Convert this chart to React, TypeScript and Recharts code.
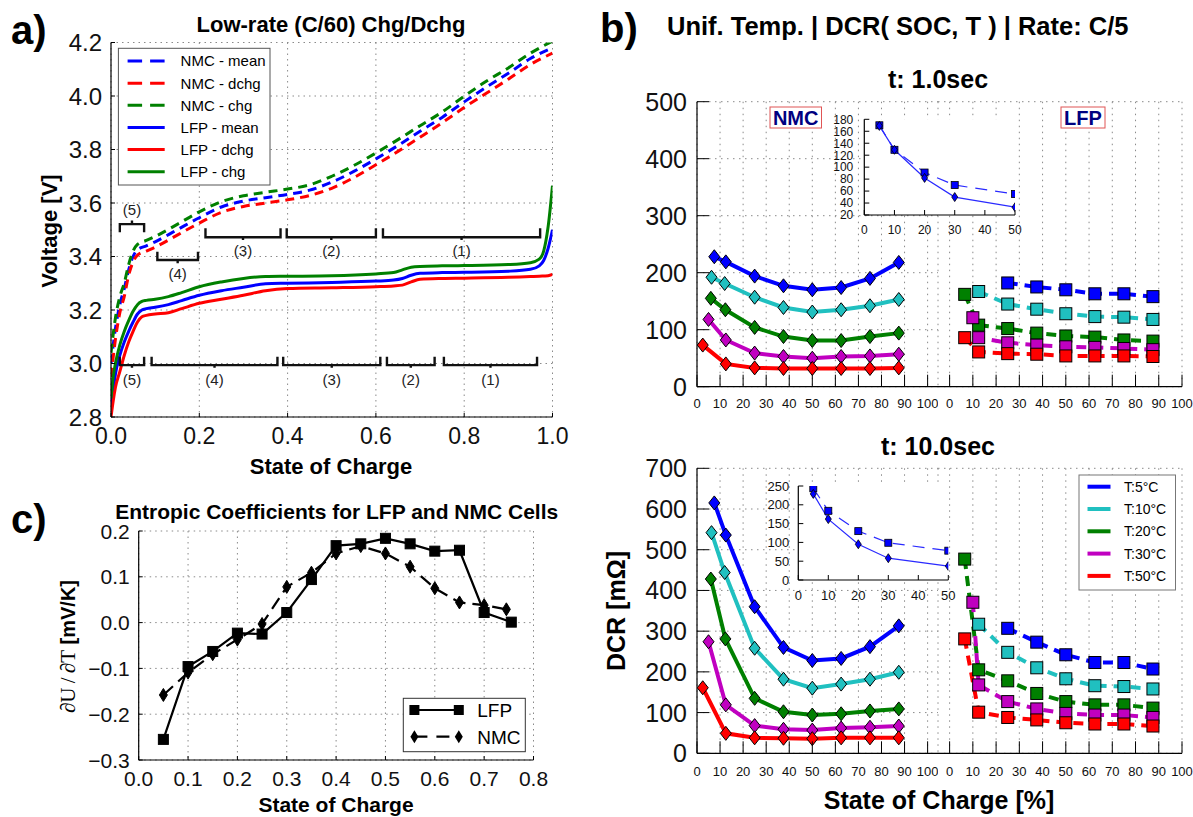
import React from 'react';
import { LineChart, Line, XAxis, YAxis, CartesianGrid, ReferenceDot } from 'recharts';

const FONT = '"Liberation Sans", Arial, Helvetica, sans-serif';
const SERIF = '"Liberation Serif", "DejaVu Serif", serif';
const BLUE = '#0000ff';
const RED = '#ff0000';
const GREEN = '#008000';
const CYAN = '#20c0c0';
const MAGENTA = '#c000c0';

// ================= Panel a : low-rate charge / discharge =================
const socTicksA = [0, 0.2, 0.4, 0.6, 0.8, 1.0];
const voltTicks = [2.8, 3.0, 3.2, 3.4, 3.6, 3.8, 4.0, 4.2];

const nmcSoc = [0, 0.01, 0.02, 0.03, 0.04, 0.05, 0.06, 0.08, 0.1, 0.15, 0.2, 0.25, 0.3, 0.35, 0.4, 0.45, 0.5, 0.55, 0.6, 0.65, 0.7, 0.75, 0.8, 0.85, 0.9, 0.95, 1.0];
const nmcMeanV = [3.0, 3.13, 3.22, 3.28, 3.35, 3.40, 3.425, 3.44, 3.455, 3.50, 3.545, 3.585, 3.607, 3.62, 3.632, 3.648, 3.678, 3.718, 3.765, 3.815, 3.868, 3.92, 3.978, 4.033, 4.085, 4.14, 4.18];
const nmcDchgV = [2.95, 3.09, 3.19, 3.25, 3.33, 3.38, 3.405, 3.42, 3.435, 3.48, 3.525, 3.565, 3.587, 3.60, 3.612, 3.628, 3.655, 3.695, 3.743, 3.793, 3.846, 3.90, 3.957, 4.01, 4.063, 4.118, 4.16];
const nmcChgV = [3.04, 3.17, 3.25, 3.30, 3.37, 3.42, 3.445, 3.46, 3.475, 3.52, 3.567, 3.605, 3.627, 3.64, 3.652, 3.668, 3.70, 3.74, 3.787, 3.837, 3.889, 3.94, 3.999, 4.055, 4.105, 4.16, 4.205];

const lfpSoc = [0, 0.005, 0.01, 0.02, 0.03, 0.04, 0.05, 0.06, 0.07, 0.08, 0.1, 0.13, 0.16, 0.2, 0.25, 0.3, 0.35, 0.4, 0.5, 0.6, 0.64, 0.66, 0.68, 0.7, 0.75, 0.8, 0.9, 0.95, 0.97, 0.98, 0.99, 1.0];
const lfpMeanV = [2.82, 2.9, 2.96, 3.03, 3.08, 3.12, 3.155, 3.185, 3.2, 3.205, 3.21, 3.22, 3.235, 3.255, 3.272, 3.285, 3.298, 3.3, 3.303, 3.308, 3.312, 3.318, 3.33, 3.337, 3.34, 3.341, 3.345, 3.352, 3.365, 3.385, 3.43, 3.5];
const lfpDchgV = [2.8, 2.86, 2.91, 2.97, 3.03, 3.08, 3.12, 3.155, 3.175, 3.18, 3.185, 3.19, 3.205, 3.225, 3.24, 3.255, 3.272, 3.28, 3.283, 3.287, 3.29, 3.293, 3.305, 3.315, 3.318, 3.319, 3.322, 3.325, 3.326, 3.327, 3.328, 3.333];
const lfpChgV = [2.87, 2.95, 3.0, 3.07, 3.12, 3.16, 3.195, 3.22, 3.232, 3.236, 3.24, 3.25, 3.265, 3.287, 3.305, 3.318, 3.325, 3.326, 3.328, 3.335, 3.34, 3.35, 3.36, 3.363, 3.365, 3.366, 3.37, 3.377, 3.39, 3.42, 3.51, 3.665];

const legendANames = ['NMC - mean', 'NMC - dchg', 'NMC - chg', 'LFP - mean', 'LFP - dchg', 'LFP - chg'];
const legendAColors = [BLUE, RED, GREEN, BLUE, RED, GREEN];
const legendADashed = [true, true, true, false, false, false];

const bracketNames = ['(5)', '(4)', '(3)', '(2)', '(1)'];
const nmcBracketStart = [0.02, 0.105, 0.214, 0.398, 0.616];
const nmcBracketEnd = [0.075, 0.197, 0.384, 0.6, 0.972];
const nmcBracketBar = [3.521, 3.387, 3.472, 3.472, 3.472];
const nmcBracketTip = [3.491, 3.418, 3.506, 3.506, 3.506];
const nmcBracketNotch = [3.535, 3.375, 3.462, 3.462, 3.462];
const nmcBracketLabelV = [3.575, 3.335, 3.42, 3.42, 3.42];
const lfpBracketStart = [0.02, 0.092, 0.39, 0.625, 0.754];
const lfpBracketEnd = [0.075, 0.377, 0.61, 0.733, 0.965];
const lfpBracketBar = [2.994, 2.994, 2.994, 2.994, 2.994];
const lfpBracketTip = [3.025, 3.025, 3.025, 3.025, 3.025];
const lfpBracketNotch = [2.984, 2.984, 2.984, 2.984, 2.984];
const lfpBracketLabelV = [2.94, 2.94, 2.94, 2.94, 2.94];

// ================= Panel b : DCR(SOC, T) =================
const socTicksB = [0, 10, 20, 30, 40, 50, 60, 70, 80, 90, 100];
const dcrTicks1s = [0, 100, 200, 300, 400, 500];
const dcrTicks10s = [0, 100, 200, 300, 400, 500, 600, 700];
const tempNames = ['T:5°C', 'T:10°C', 'T:20°C', 'T:30°C', 'T:50°C'];
const tempColors = [BLUE, CYAN, GREEN, MAGENTA, RED];

const nmcSocT5 = [7.5, 12.5, 25, 37.5, 50, 62.5, 75, 87.5];
const nmcSocT10 = [6.3, 12, 25, 37.5, 50, 62.5, 75, 87.5];
const nmcSocT20 = [6, 12.3, 25, 37.5, 50, 62.5, 75, 87.5];
const nmcSocT30 = [5, 12.5, 25, 37.5, 50, 62.5, 75, 87.5];
const nmcSocT50 = [2.5, 12.5, 25, 37.5, 50, 62.5, 75, 87.5];
const lfpSocT5 = [25, 37.5, 50, 62.5, 75, 87.5];
const lfpSocT10 = [12.5, 25, 37.5, 50, 62.5, 75, 87.5];
const lfpSocT20 = [6.5, 12.5, 25, 37.5, 50, 62.5, 75, 87.5];
const lfpSocT30 = [10, 12.5, 25, 37.5, 50, 62.5, 75, 87.5];
const lfpSocT50 = [6.5, 12.5, 25, 37.5, 50, 62.5, 75, 87.5];

// t = 1.0 s
const nmc1sT5 = [228, 219, 194, 177, 170, 174, 190, 218];
const nmc1sT10 = [192, 181, 157, 139, 131, 135, 142, 153];
const nmc1sT20 = [155, 135, 104, 88, 81, 81, 88, 94];
const nmc1sT30 = [118, 82, 59, 53, 50, 53, 54, 57];
const nmc1sT50 = [73, 40, 33, 32, 32, 32, 32, 33];
const lfp1sT5 = [182, 175, 170, 163, 163, 158];
const lfp1sT10 = [167, 145, 136, 128, 123, 122, 118];
const lfp1sT20 = [162, 108, 102, 94, 89, 87, 82, 80];
const lfp1sT30 = [121, 86, 77, 73, 70, 69, 67, 65];
const lfp1sT50 = [86, 61, 58, 57, 54, 54, 54, 53];

// t = 10.0 s
const nmc10sT5 = [615, 536, 360, 260, 228, 233, 262, 313];
const nmc10sT10 = [542, 444, 258, 182, 160, 170, 182, 199];
const nmc10sT20 = [428, 281, 135, 102, 94, 97, 104, 109];
const nmc10sT30 = [274, 119, 68, 59, 57, 62, 64, 67];
const nmc10sT50 = [161, 49, 38, 37, 36, 38, 38, 38];
const lfp10sT5 = [307, 273, 242, 223, 223, 207];
const lfp10sT10 = [317, 248, 210, 183, 166, 164, 158];
const lfp10sT20 = [477, 205, 178, 147, 127, 119, 119, 111];
const lfp10sT30 = [371, 168, 127, 109, 98, 94, 94, 88];
const lfp10sT50 = [281, 101, 88, 82, 75, 72, 72, 67];

// insets (DCR vs temperature)
const insetTemps = [5, 10, 20, 30, 50];
const insetTicksX = [0, 10, 20, 30, 40, 50];
const inset1sTicks = [20, 40, 60, 80, 100, 120, 140, 160, 180];
const inset10sTicks = [0, 50, 100, 150, 200, 250];
const inset1sSquares = [170, 129, 91, 70, 55];
const inset1sDiamonds = [169, 129, 82, 50, 33];
const inset10sSquares = [244, 184, 130, 99, 78];
const inset10sDiamonds = [229, 162, 95, 58, 37];

// ================= Panel c : entropic coefficients =================
const entSocTicks = [0, 0.1, 0.2, 0.3, 0.4, 0.5, 0.6, 0.7, 0.8];
const entTicks = [-0.3, -0.2, -0.1, 0, 0.1, 0.2];
const entSocLfp = [0.05, 0.1, 0.15, 0.2, 0.25, 0.3, 0.35, 0.4, 0.45, 0.5, 0.55, 0.6, 0.65, 0.7, 0.755];
const entLfp = [-0.255, -0.096, -0.063, -0.023, -0.025, 0.022, 0.094, 0.168, 0.172, 0.184, 0.172, 0.156, 0.158, 0.022, 0.001];
const entSocNmc = [0.05, 0.1, 0.15, 0.2, 0.25, 0.3, 0.35, 0.4, 0.45, 0.5, 0.55, 0.6, 0.65, 0.7, 0.745];
const entNmc = [-0.158, -0.109, -0.069, -0.037, -0.003, 0.078, 0.109, 0.151, 0.167, 0.151, 0.122, 0.075, 0.044, 0.038, 0.029];

// ================= helpers =================
type Pt = { x: number; y: number };
const zip = (xs: number[], ys: number[]): Pt[] => xs.map((x, i) => ({ x, y: ys[i] }));
const f1 = (v: number) => v.toFixed(1);
const fm1 = (v: number) => (v < 0 ? '\u2212' + Math.abs(v).toFixed(1) : v.toFixed(1));
const AXL = { stroke: '#000', strokeWidth: 1.2 };

const tickBottom = (len: number, fs: number, gap: number, fmt?: (v: number) => string) => (p: any) => (
  <g>
    {len > 0 ? <line x1={p.x} y1={p.y} x2={p.x} y2={p.y - len} stroke="#000" strokeWidth={1} /> : null}
    <text x={p.x} y={p.y + gap} textAnchor="middle" fontSize={fs} fontFamily={FONT} fill="#111">
      {fmt ? fmt(p.payload.value) : p.payload.value}
    </text>
  </g>
);
const tickLeft = (len: number, fs: number, gap: number, fmt?: (v: number) => string) => (p: any) => (
  <g>
    {len > 0 ? <line x1={p.x} y1={p.y} x2={p.x + len} y2={p.y} stroke="#000" strokeWidth={1} /> : null}
    <text x={p.x - gap} y={p.y} dy="0.36em" textAnchor="end" fontSize={fs} fontFamily={FONT} fill="#111">
      {fmt ? fmt(p.payload.value) : p.payload.value}
    </text>
  </g>
);
const tickTop = (len: number) => (p: any) => <line x1={p.x} y1={p.y} x2={p.x} y2={p.y + len} stroke="#000" strokeWidth={1} />;
const tickRight = (len: number) => (p: any) => <line x1={p.x} y1={p.y} x2={p.x - len} y2={p.y} stroke="#000" strokeWidth={1} />;

const squareDot = (fill: string, size: number, sw = 1) => (p: any) => {
  if (p.cx == null || p.cy == null) return <g key={`s${p.index}`} />;
  return <rect key={`s${p.index}`} x={p.cx - size / 2} y={p.cy - size / 2} width={size} height={size} fill={fill} stroke="#000" strokeWidth={sw} />;
};
const diamondDot = (fill: string, w: number, h: number, sw = 1) => (p: any) => {
  if (p.cx == null || p.cy == null) return <g key={`d${p.index}`} />;
  const { cx, cy } = p;
  return (
    <path key={`d${p.index}`} d={`M${cx},${cy - h / 2} L${cx + w / 2},${cy} L${cx},${cy + h / 2} L${cx - w / 2},${cy} Z`} fill={fill} stroke="#000" strokeWidth={sw} />
  );
};

const bracketPoints = (x1: number, x2: number, bar: number, tip: number, notch: number): Pt[] => {
  const m = (x1 + x2) / 2;
  return [
    { x: x1, y: tip }, { x: x1, y: bar }, { x: m, y: bar }, { x: m, y: notch }, { x: m, y: bar }, { x: x2, y: bar }, { x: x2, y: tip },
  ];
};

// ================= Panel a =================
function PanelA() {
  const curves = [
    { k: 'nm', d: zip(nmcSoc, nmcMeanV), c: BLUE, dash: true },
    { k: 'nd', d: zip(nmcSoc, nmcDchgV), c: RED, dash: true },
    { k: 'nc', d: zip(nmcSoc, nmcChgV), c: GREEN, dash: true },
    { k: 'lm', d: zip(lfpSoc, lfpMeanV), c: BLUE, dash: false },
    { k: 'ld', d: zip(lfpSoc, lfpDchgV), c: RED, dash: false },
    { k: 'lc', d: zip(lfpSoc, lfpChgV), c: GREEN, dash: false },
  ];
  const brackets: { k: string; d: Pt[]; lx: number; ly: number; name: string }[] = [];
  bracketNames.forEach((n, i) => {
    brackets.push({ k: 'bu' + i, name: n, d: bracketPoints(nmcBracketStart[i], nmcBracketEnd[i], nmcBracketBar[i], nmcBracketTip[i], nmcBracketNotch[i]), lx: (nmcBracketStart[i] + nmcBracketEnd[i]) / 2, ly: nmcBracketLabelV[i] });
    brackets.push({ k: 'bl' + i, name: n, d: bracketPoints(lfpBracketStart[i], lfpBracketEnd[i], lfpBracketBar[i], lfpBracketTip[i], lfpBracketNotch[i]), lx: (lfpBracketStart[i] + lfpBracketEnd[i]) / 2, ly: lfpBracketLabelV[i] });
  });
  return (
    <div style={{ position: 'absolute', left: 0, top: 0 }}>
      <LineChart width={600} height={480} margin={{ top: 42.5, right: 47.5, bottom: 0, left: 0 }}>
        <CartesianGrid stroke="#8a8a8a" strokeDasharray="1.5 4" />
        <XAxis type="number" dataKey="x" domain={[0, 1]} ticks={socTicksA} interval={0} allowDataOverflow height={63} tickSize={0} tickMargin={0} tickLine={false} axisLine={AXL} tick={tickBottom(4, 23, 27, f1)} />
        <XAxis xAxisId="top" orientation="top" type="number" dataKey="x" domain={[0, 1]} ticks={socTicksA} interval={0} allowDataOverflow height={0} tickSize={0} tickMargin={0} tickLine={false} axisLine={AXL} tick={tickTop(4)} />
        <YAxis type="number" domain={[2.8, 4.2]} ticks={voltTicks} interval={0} allowDataOverflow width={111} tickSize={0} tickMargin={0} tickLine={false} axisLine={AXL} tick={tickLeft(4, 24, 9, f1)} />
        <YAxis yAxisId="right" orientation="right" type="number" domain={[2.8, 4.2]} ticks={voltTicks} interval={0} allowDataOverflow width={0} tickSize={0} tickMargin={0} tickLine={false} axisLine={AXL} tick={tickRight(4)} />
        {curves.map((s) => (
          <Line key={s.k} data={s.d} dataKey="y" type="monotone" stroke={s.c} strokeWidth={3} strokeDasharray={s.dash ? '9 6' : undefined} dot={false} activeDot={false} isAnimationActive={false} />
        ))}
        {brackets.map((b) => (
          <Line key={b.k} data={b.d} dataKey="y" type="linear" stroke="#111" strokeWidth={2.4} dot={false} activeDot={false} isAnimationActive={false} />
        ))}
        {brackets.map((b) => (
          <ReferenceDot key={'l' + b.k} x={b.lx} y={b.ly} r={0} fill="none" stroke="none" label={{ value: b.name, position: 'center', fontSize: 15, fill: '#222', fontFamily: FONT }} />
        ))}
      </LineChart>
    </div>
  );
}

// ================= Panel c =================
function PanelC() {
  return (
    <div style={{ position: 'absolute', left: 0, top: 490 }}>
      <LineChart width={580} height={327} margin={{ top: 41, right: 46.5, bottom: 0, left: 0 }}>
        <CartesianGrid stroke="#8a8a8a" strokeDasharray="1.5 4" />
        <XAxis type="number" dataKey="x" domain={[0, 0.8]} ticks={entSocTicks} interval={0} allowDataOverflow height={57} tickSize={0} tickMargin={0} tickLine={false} axisLine={AXL} tick={tickBottom(4, 21, 25.5, f1)} />
        <XAxis xAxisId="top" orientation="top" type="number" dataKey="x" domain={[0, 0.8]} ticks={entSocTicks} interval={0} allowDataOverflow height={0} tickSize={0} tickMargin={0} tickLine={false} axisLine={AXL} tick={tickTop(4)} />
        <YAxis type="number" domain={[-0.3, 0.2]} ticks={entTicks} interval={0} allowDataOverflow width={138.7} tickSize={0} tickMargin={0} tickLine={false} axisLine={AXL} tick={tickLeft(4, 21, 9, fm1)} />
        <YAxis yAxisId="right" orientation="right" type="number" domain={[-0.3, 0.2]} ticks={entTicks} interval={0} allowDataOverflow width={0} tickSize={0} tickMargin={0} tickLine={false} axisLine={AXL} tick={tickRight(4)} />
        <Line data={zip(entSocNmc, entNmc)} dataKey="y" type="linear" stroke="#000" strokeWidth={2.2} strokeDasharray="13 7" dot={diamondDot('#000', 8, 13)} activeDot={false} isAnimationActive={false} />
        <Line data={zip(entSocLfp, entLfp)} dataKey="y" type="linear" stroke="#000" strokeWidth={2.2} dot={squareDot('#000', 10)} activeDot={false} isAnimationActive={false} />
      </LineChart>
    </div>
  );
}

// ================= Panel b halves =================
type SeriesDef = { name: string; color: string; soc: number[]; dcr: number[] };

function DcrHalf(props: {
  left: number; top: number; width: number; height: number; mt: number; rm: number; yW: number; axisH: number;
  xDomain: [number, number]; yMax: number; yTicks: number[]; series: SeriesDef[]; nmc: boolean; labelGap: number;
}) {
  const { left, top, width, height, mt, rm, yW, axisH, xDomain, yMax, yTicks, series, nmc, labelGap } = props;
  return (
    <div style={{ position: 'absolute', left, top }}>
      <LineChart width={width} height={height} margin={{ top: mt, right: rm, bottom: 0, left: 0 }}>
        <CartesianGrid stroke="#8a8a8a" strokeDasharray="1.5 4.5" />
        <XAxis type="number" dataKey="x" domain={xDomain} ticks={socTicksB} interval={0} allowDataOverflow height={axisH} tickSize={0} tickMargin={0} tickLine={false} axisLine={AXL} tick={tickBottom(12, 13, labelGap)} />
        <XAxis xAxisId="top" orientation="top" type="number" dataKey="x" domain={xDomain} ticks={socTicksB} interval={0} allowDataOverflow height={0} tickSize={0} tickMargin={0} tickLine={false} axisLine={AXL} tick={tickTop(12)} />
        <YAxis type="number" domain={[0, yMax]} ticks={yTicks} interval={0} allowDataOverflow width={yW} tickSize={0} tickMargin={0} tickLine={false} axisLine={AXL} tick={nmc ? tickLeft(12, 25, 10) : false} />
        <YAxis yAxisId="r" orientation="right" type="number" domain={[0, yMax]} ticks={yTicks} interval={0} allowDataOverflow width={0} tickSize={0} tickMargin={0} tickLine={false} axisLine={AXL} tick={nmc ? false : tickRight(12)} />
        {series.map((s) => (
          <Line
            key={s.name}
            data={zip(s.soc, s.dcr)}
            dataKey="y"
            type="linear"
            stroke={s.color}
            strokeWidth={4}
            strokeDasharray={nmc ? undefined : '10 7'}
            dot={nmc ? diamondDot(s.color, 11, 14) : squareDot(s.color, 12)}
            activeDot={false}
            isAnimationActive={false}
          />
        ))}
      </LineChart>
    </div>
  );
}

function Inset(props: {
  left: number; top: number; width: number; height: number; mt: number; rm: number; yW: number; axisH: number;
  yDomain: [number, number]; yTicks: number[]; squares: number[]; diamonds: number[]; fs: number; xGap: number; yGap: number;
}) {
  const { left, top, width, height, mt, rm, yW, axisH, yDomain, yTicks, squares, diamonds, fs, xGap, yGap } = props;
  return (
    <div style={{ position: 'absolute', left, top }}>
      <LineChart width={width} height={height} margin={{ top: mt, right: rm, bottom: 0, left: 0 }}>
        <CartesianGrid horizontal={false} vertical={false} fill="#fff" fillOpacity={1} />
        <XAxis type="number" dataKey="x" domain={[0, 50]} ticks={insetTicksX} interval={0} allowDataOverflow height={axisH} tickSize={0} tickMargin={0} tickLine={false} axisLine={AXL} tick={tickBottom(5, fs, xGap)} />
        <XAxis xAxisId="top" orientation="top" type="number" dataKey="x" domain={[0, 50]} ticks={insetTicksX} interval={0} allowDataOverflow height={0} tickSize={0} tickMargin={0} tickLine={false} axisLine={AXL} tick={tickTop(5)} />
        <YAxis type="number" domain={yDomain} ticks={yTicks} interval={0} allowDataOverflow width={yW} tickSize={0} tickMargin={0} tickLine={false} axisLine={AXL} tick={tickLeft(5, fs, yGap)} />
        <YAxis yAxisId="r" orientation="right" type="number" domain={yDomain} ticks={yTicks} interval={0} allowDataOverflow width={0} tickSize={0} tickMargin={0} tickLine={false} axisLine={AXL} tick={tickRight(5)} />
        <Line data={zip(insetTemps, squares)} dataKey="y" type="linear" stroke="#2a2aff" strokeWidth={1.2} strokeDasharray="12 8" dot={squareDot(BLUE, 7, 0.8)} activeDot={false} isAnimationActive={false} />
        <Line data={zip(insetTemps, diamonds)} dataKey="y" type="linear" stroke="#2a2aff" strokeWidth={1.2} dot={diamondDot(BLUE, 6, 9, 0.8)} activeDot={false} isAnimationActive={false} />
      </LineChart>
    </div>
  );
}

const mkSeries = (socs: number[][], vals: number[][]): SeriesDef[] =>
  tempNames.map((n, i) => ({ name: n, color: tempColors[i], soc: socs[i], dcr: vals[i] }));

// ================= text / legends overlay =================
function Overlay() {
  return (
    <svg width={1193} height={817} style={{ position: 'absolute', left: 0, top: 0, pointerEvents: 'none' }}>
      <g fontFamily={FONT} fill="#000">
        {/* panel letters */}
        <text x={11} y={44} fontSize={40} fontWeight="bold">a)</text>
        <text x={600} y={42} fontSize={40} fontWeight="bold">b)</text>
        <text x={11} y={533} fontSize={40} fontWeight="bold">c)</text>

        {/* panel a */}
        <text x={331} y={31.5} fontSize={22} fontWeight="bold" textAnchor="middle">Low-rate (C/60) Chg/Dchg</text>
        <text x={49} y={231} dy="0.36em" fontSize={22} fontWeight="bold" textAnchor="middle" transform="rotate(-90 49 231)">Voltage [V]</text>
        <text x={331} y={474} fontSize={22} fontWeight="bold" textAnchor="middle">State of Charge</text>
        <rect x={118.4} y={48.3} width={151.6} height={136.7} fill="#fff" stroke="#555" strokeWidth={1} />
        {legendANames.map((n, i) => {
          const y = 61 + i * 22.15;
          return (
            <g key={n}>
              <line x1={127.6} x2={164.7} y1={y} y2={y} stroke={legendAColors[i]} strokeWidth={3} strokeDasharray={legendADashed[i] ? '14.5 8' : undefined} />
              <text x={180.6} y={y} dy="0.36em" fontSize={15}>{n}</text>
            </g>
          );
        })}

        {/* panel c */}
        <text x={336.7} y={519} fontSize={21} fontWeight="bold" textAnchor="middle">Entropic Coefficients for LFP and NMC Cells</text>
        <text x={336} y={812} fontSize={21} fontWeight="bold" textAnchor="middle">State of Charge</text>
        <text x={69.4} y={646.5} dy="0.36em" textAnchor="middle" transform="rotate(-90 69.4 646.5)">
          <tspan fontFamily={SERIF} fontSize={21}>{'\u2202U\u2009/\u2009\u2202T'}</tspan>
          <tspan fontFamily={FONT} fontSize={20} fontWeight="bold">{' [mV/K]'}</tspan>
        </text>
        <rect x={403.3} y={698.3} width={122} height={53.4} fill="#fff" stroke="#333" strokeWidth={1} />
        <line x1={414.4} x2={458.8} y1={710} y2={710} stroke="#000" strokeWidth={2.2} />
        <rect x={409.4} y={705} width={10} height={10} fill="#000" />
        <rect x={453.8} y={705} width={10} height={10} fill="#000" />
        <text x={477.3} y={710} dy="0.36em" fontSize={19}>LFP</text>
        <line x1={414.4} x2={458.8} y1={736.7} y2={736.7} stroke="#000" strokeWidth={2.2} strokeDasharray="13 9" />
        <path d="M414.4,730.2 L418.4,736.7 L414.4,743.2 L410.4,736.7 Z" fill="#000" />
        <path d="M458.8,730.2 L462.8,736.7 L458.8,743.2 L454.8,736.7 Z" fill="#000" />
        <text x={477.3} y={736.7} dy="0.36em" fontSize={19}>NMC</text>

        {/* panel b */}
        <text x={667} y={35} fontSize={25.5} fontWeight="bold">Unif. Temp. | DCR( SOC, T ) | Rate: C/5</text>
        <text x={938} y={88} fontSize={25} fontWeight="bold" textAnchor="middle">t: 1.0sec</text>
        <text x={938} y={455} fontSize={25} fontWeight="bold" textAnchor="middle">t: 10.0sec</text>
        <text x={616} y={611} dy="0.36em" fontSize={25} fontWeight="bold" textAnchor="middle" transform="rotate(-90 616 611)">DCR [mΩ]</text>
        <text x={939} y={809} fontSize={25} fontWeight="bold" textAnchor="middle">State of Charge [%]</text>
        <rect x={770} y={107} width={51.5} height={21} fill="#fff" stroke="#e05555" strokeWidth={1} />
        <text x={795.7} y={124.8} fontSize={20} fontWeight="bold" textAnchor="middle" fill="#000080">NMC</text>
        <rect x={1061} y={107} width={44} height={21} fill="#fff" stroke="#e05555" strokeWidth={1} />
        <text x={1083} y={124.8} fontSize={20} fontWeight="bold" textAnchor="middle" fill="#000080">LFP</text>
        <rect x={1079} y={475} width={96.5} height={115} fill="#fff" stroke="#777" strokeWidth={1} />
        {tempNames.map((n, i) => {
          const y = 486.7 + i * 22.3;
          return (
            <g key={n}>
              <line x1={1087.5} x2={1110.5} y1={y} y2={y} stroke={tempColors[i]} strokeWidth={4} />
              <text x={1124} y={y} dy="0.36em" fontSize={14}>{n}</text>
            </g>
          );
        })}
      </g>
    </svg>
  );
}

export default function App() {
  const nmcSocs = [nmcSocT5, nmcSocT10, nmcSocT20, nmcSocT30, nmcSocT50];
  const lfpSocs = [lfpSocT5, lfpSocT10, lfpSocT20, lfpSocT30, lfpSocT50];
  const nmc1s = mkSeries(nmcSocs, [nmc1sT5, nmc1sT10, nmc1sT20, nmc1sT30, nmc1sT50]);
  const lfp1s = mkSeries(lfpSocs, [lfp1sT5, lfp1sT10, lfp1sT20, lfp1sT30, lfp1sT50]);
  const nmc10s = mkSeries(nmcSocs, [nmc10sT5, nmc10sT10, nmc10sT20, nmc10sT30, nmc10sT50]);
  const lfp10s = mkSeries(lfpSocs, [lfp10sT5, lfp10sT10, lfp10sT20, lfp10sT30, lfp10sT50]);
  return (
    <div style={{ position: 'absolute', left: 0, top: 0, width: 1193, height: 817, background: '#fff', overflow: 'hidden' }}>
      <PanelA />
      <PanelC />
      <DcrHalf left={590} top={60} width={348} height={360} mt={41.7} rm={0} yW={107} axisH={33.3} xDomain={[0, 104.5]} yMax={500} yTicks={dcrTicks1s} series={nmc1s} nmc labelGap={21} />
      <DcrHalf left={938} top={60} width={255} height={360} mt={41.7} rm={11} yW={0} axisH={33.3} xDomain={[-5, 100]} yMax={500} yTicks={dcrTicks1s} series={lfp1s} nmc={false} labelGap={21} />
      <DcrHalf left={590} top={430} width={348} height={360} mt={38.3} rm={0} yW={107} axisH={36.7} xDomain={[0, 104.5]} yMax={700} yTicks={dcrTicks10s} series={nmc10s} nmc labelGap={23} />
      <DcrHalf left={938} top={430} width={255} height={360} mt={38.3} rm={11} yW={0} axisH={36.7} xDomain={[-5, 100]} yMax={700} yTicks={dcrTicks10s} series={lfp10s} nmc={false} labelGap={23} />
      <Inset left={830} top={110} width={200} height={130} mt={9.3} rm={15} yW={34.3} axisH={25} yDomain={[20, 180]} yTicks={inset1sTicks} squares={inset1sSquares} diamonds={inset1sDiamonds} fs={12} xGap={19.3} yGap={11} />
      <Inset left={760} top={476} width={205} height={135} mt={10} rm={16.7} yW={38.3} axisH={31} yDomain={[0, 250]} yTicks={inset10sTicks} squares={inset10sSquares} diamonds={inset10sDiamonds} fs={13} xGap={19.7} yGap={9} />
      <Overlay />
    </div>
  );
}
